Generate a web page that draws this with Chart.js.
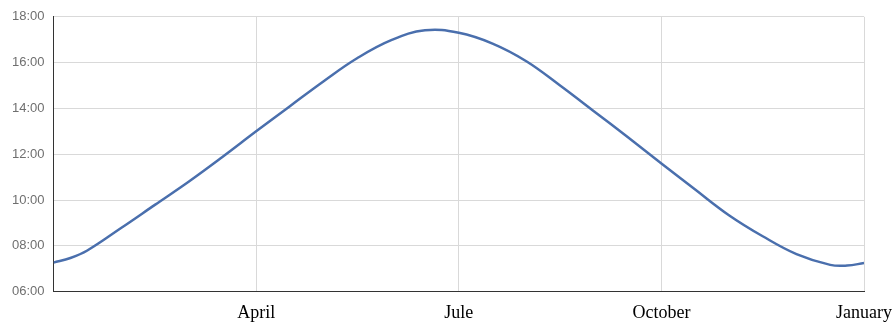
<!DOCTYPE html>
<html lang="en">
<head>
    <meta charset="UTF-8">
    <title>Day length</title>
    <style>
        body { margin: 0; background: #fff; }
        .wrap { width: 892px; height: 330px; }
    </style>
</head>
<body>
    <div class="wrap"><canvas id="dayChart"></canvas></div>
    <script src="https://cdn.jsdelivr.net/npm/chart.js"></script>
    <script>
        // months since January
        const months = [0, 0.25, 0.5, 1, 1.5, 2, 2.5, 3, 3.5, 4, 4.5, 5, 5.5, 6, 6.5, 7, 7.5, 8, 8.5, 9, 9.5, 10, 10.5, 11, 11.5, 11.75, 12];
        // day length in hours
        const dayLength = [7.27, 7.47, 7.8, 8.78, 9.79, 10.8, 11.88, 13.0, 14.1, 15.19, 16.2, 16.98, 17.41, 17.3, 16.83, 16.06, 15.0, 13.88, 12.75, 11.6, 10.46, 9.34, 8.42, 7.64, 7.17, 7.14, 7.25];

        const tickMonths = [3, 6, 9, 12];
        const tickNames = ['April', 'Jule', 'October', 'January'];
        const hourTicks = [6, 8, 10, 12, 14, 16, 18];

        const points = months.map((m, i) => ({ x: m, y: dayLength[i] }));

        new Chart(document.getElementById('dayChart'), {
            type: 'line',
            data: {
                datasets: [{
                    data: points,
                    borderColor: '#4a6fad',
                    borderWidth: 2.5,
                    pointRadius: 0,
                    fill: false,
                    tension: 0.4
                }]
            },
            options: {
                responsive: true,
                maintainAspectRatio: false,
                animation: false,
                layout: { padding: { top: 9, left: 3, right: 0, bottom: -4 } },
                plugins: { legend: { display: false }, tooltip: { enabled: false } },
                scales: {
                    x: {
                        type: 'linear',
                        min: 0,
                        max: 12,
                        afterBuildTicks: s => { s.ticks = [0, ...tickMonths].map(v => ({ value: v })); },
                        ticks: {
                            autoSkip: false,
                            maxRotation: 0,
                            padding: 0,
                            color: '#000',
                            // tall line height pushes the month names down from the axis
                            font: { family: "'Liberation Serif', 'Times New Roman', serif", size: 18, lineHeight: 2.35 },
                            callback: v => {
                                const i = tickMonths.indexOf(v);
                                return i >= 0 ? tickNames[i] : '';
                            }
                        },
                        grid: { color: '#d9d9d9', drawTicks: false },
                        border: { color: '#333', width: 1 }
                    },
                    y: {
                        min: 6,
                        max: 18,
                        afterBuildTicks: s => { s.ticks = hourTicks.map(v => ({ value: v })); },
                        ticks: {
                            padding: 9,
                            color: '#6f6f6f',
                            font: { family: "'Liberation Sans', Arial, sans-serif", size: 13 },
                            callback: v => String(v).padStart(2, '0') + ':00'
                        },
                        grid: { color: '#d9d9d9', drawTicks: false },
                        border: { color: '#333', width: 1 }
                    }
                }
            }
        });
    </script>
</body>
</html>
